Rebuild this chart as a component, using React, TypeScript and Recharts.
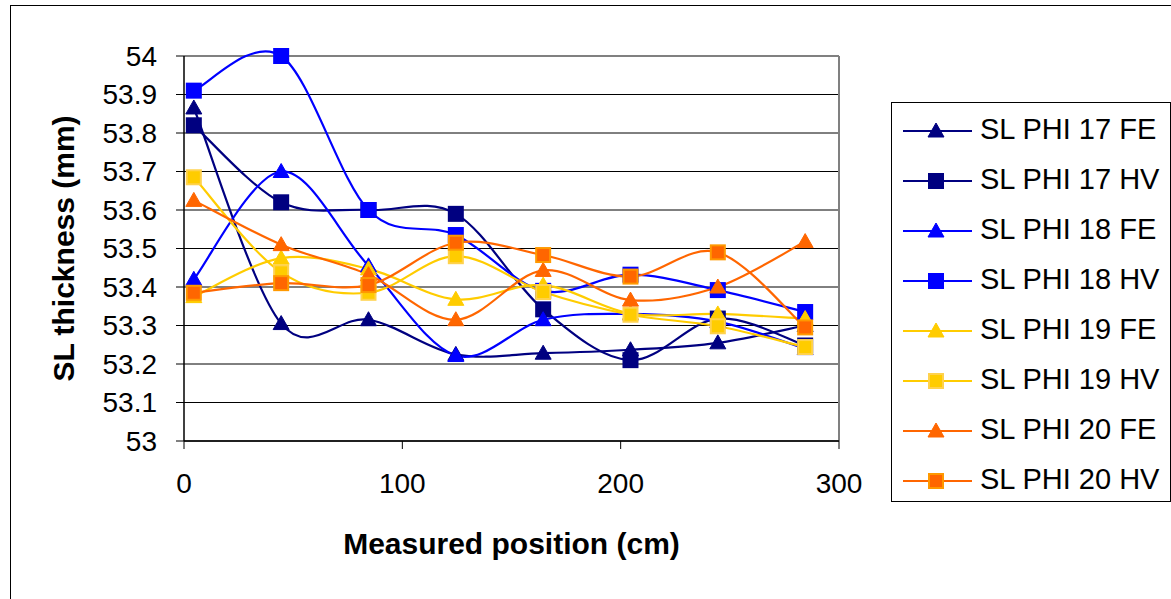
import React from 'react'
import { LineChart, Line, XAxis, YAxis, CartesianGrid, ReferenceLine, Label } from 'recharts'

// measured positions along the chamber (cm)
const positions = [4.5, 44.5, 84.5, 124.5, 164.5, 204.5, 244.5, 284.5]

// SL thickness (mm) per superlayer / side
const phi17FE = [53.865, 53.305, 53.315, 53.225, 53.228, 53.237, 53.255, 53.3]
const phi17HV = [53.82, 53.62, 53.6, 53.59, 53.342, 53.21, 53.318, 53.248]
const phi18FE = [53.42, 53.7, 53.455, 53.222, 53.315, 53.33, 53.31, 53.24]
const phi18HV = [53.91, 54.0, 53.6, 53.535, 53.39, 53.432, 53.392, 53.335]
const phi19FE = [53.375, 53.475, 53.447, 53.368, 53.405, 53.331, 53.33, 53.318]
const phi19HV = [53.685, 53.438, 53.385, 53.48, 53.387, 53.328, 53.298, 53.244]
const phi20FE = [53.625, 53.51, 53.432, 53.315, 53.443, 53.366, 53.4, 53.518]
const phi20HV = [53.385, 53.41, 53.405, 53.515, 53.483, 53.427, 53.49, 53.295]

const xTicks = [0, 100, 200, 300]
const yTicks = [53, 53.1, 53.2, 53.3, 53.4, 53.5, 53.6, 53.7, 53.8, 53.9, 54]

const FONT = '"Liberation Sans", Arial, sans-serif'

const series = [
  { key: 'p17fe', name: 'SL PHI 17 FE', values: phi17FE, color: '#000080', shape: 'tri', edge: '#000080' },
  { key: 'p17hv', name: 'SL PHI 17 HV', values: phi17HV, color: '#000080', shape: 'sq', edge: '#000080' },
  { key: 'p18fe', name: 'SL PHI 18 FE', values: phi18FE, color: '#0000FF', shape: 'tri', edge: '#0000FF' },
  { key: 'p18hv', name: 'SL PHI 18 HV', values: phi18HV, color: '#0000FF', shape: 'sq', edge: '#0000FF' },
  { key: 'p19fe', name: 'SL PHI 19 FE', values: phi19FE, color: '#FFCC00', shape: 'tri', edge: '#FFCC00' },
  { key: 'p19hv', name: 'SL PHI 19 HV', values: phi19HV, color: '#FFCC00', shape: 'sq', edge: '#FFD24D' },
  { key: 'p20fe', name: 'SL PHI 20 FE', values: phi20FE, color: '#FF6600', shape: 'tri', edge: '#FF6600' },
  { key: 'p20hv', name: 'SL PHI 20 HV', values: phi20HV, color: '#FF6600', shape: 'sq', edge: '#FF9900' },
]

const data = positions.map((x, i) => {
  const row: Record<string, number> = { x }
  series.forEach(s => { row[s.key] = s.values[i] })
  return row
})

// Excel-style smoothed line (Catmull-Rom through every point)
const excelSmooth = (context: any) => {
  let pts: number[][] = []
  return {
    areaStart() {},
    areaEnd() {},
    lineStart() { pts = [] },
    point(x: number, y: number) { pts.push([+x, +y]) },
    lineEnd() {
      const n = pts.length
      if (!n) return
      context.moveTo(pts[0][0], pts[0][1])
      for (let i = 0; i < n - 1; i++) {
        const p0 = pts[Math.max(i - 1, 0)]
        const p1 = pts[i]
        const p2 = pts[i + 1]
        const p3 = pts[Math.min(i + 2, n - 1)]
        context.bezierCurveTo(
          p1[0] + (p2[0] - p0[0]) / 6, p1[1] + (p2[1] - p0[1]) / 6,
          p2[0] - (p3[0] - p1[0]) / 6, p2[1] - (p3[1] - p1[1]) / 6,
          p2[0], p2[1],
        )
      }
    },
  }
}

function Marker({ cx, cy, shape, fill, edge }: { cx: number; cy: number; shape: string; fill: string; edge: string }) {
  if (shape === 'tri') {
    return <path d={`M${cx},${cy - 8} L${cx + 8},${cy + 6} L${cx - 8},${cy + 6} Z`} fill={fill} stroke={edge} strokeWidth={1} />
  }
  return <rect x={cx - 7} y={cy - 7} width={14} height={14} fill={fill} stroke={edge} strokeWidth={2} />
}

const tickStyle = { fontSize: 28, fill: '#000', fontFamily: FONT }

export default function App() {
  return (
    <div style={{ position: 'absolute', left: 0, top: 0, width: 1171, height: 599, overflow: 'hidden', background: '#fff', fontFamily: FONT }}>
      <div style={{ position: 'absolute', left: 10, top: 5, width: 1200, height: 700, border: '1px solid #000' }} />
      <LineChart width={1171} height={599} data={data} margin={{ top: 56, right: 332, bottom: 78, left: 34 }}>
        <CartesianGrid vertical={false} stroke="#000" strokeWidth={1} />
        <ReferenceLine y={54} stroke="#808080" strokeWidth={2} />
        <ReferenceLine x={300} stroke="#808080" strokeWidth={2} />
        <XAxis
          dataKey="x"
          type="number"
          domain={[0, 300]}
          ticks={xTicks}
          height={80}
          tickSize={8}
          tickMargin={24}
          tick={tickStyle}
          stroke="#000"
          axisLine={{ stroke: '#000', strokeWidth: 1.5 }}
        >
          <Label
            content={({ viewBox }: any) => (
              <text x={viewBox.x + viewBox.width / 2} y={543} textAnchor="middle" dominantBaseline="central"
                fontFamily={FONT} fontSize={30} fontWeight="bold" fill="#000">
                Measured position (cm)
              </text>
            )}
          />
        </XAxis>
        <YAxis
          type="number"
          domain={[53, 54]}
          ticks={yTicks}
          width={150}
          tickSize={8}
          tickMargin={19}
          tick={tickStyle}
          tickFormatter={(v: number) => String(+v.toFixed(1))}
          stroke="#000"
          axisLine={{ stroke: '#000', strokeWidth: 1.5 }}
        >
          <Label
            content={({ viewBox }: any) => {
              const cx = viewBox.x + 29
              const cy = viewBox.y + viewBox.height / 2
              return (
                <text x={cx} y={cy} transform={`rotate(-90, ${cx}, ${cy})`} textAnchor="middle" dominantBaseline="central"
                  fontFamily={FONT} fontSize={30} fontWeight="bold" fill="#000">
                  SL thickness (mm)
                </text>
              )
            }}
          />
        </YAxis>
        {series.map(s => (
          <Line
            key={s.key}
            dataKey={s.key}
            name={s.name}
            type={excelSmooth as any}
            stroke={s.color}
            strokeWidth={2.2}
            isAnimationActive={false}
            activeDot={false}
            dot={(p: any) => (
              <Marker key={`${s.key}-${p.index}`} cx={p.cx} cy={p.cy} shape={s.shape} fill={s.color} edge={s.edge} />
            )}
          />
        ))}
      </LineChart>

      <div style={{ position: 'absolute', left: 891, top: 102, width: 278, height: 398, border: '1px solid #000', background: '#fff' }}>
        {series.map((s, i) => (
          <div key={s.key} style={{ position: 'absolute', left: 0, top: 3 + i * 50, height: 50, width: 278 }}>
            <svg width={80} height={50} style={{ position: 'absolute', left: 0, top: 0 }}>
              <line x1={11} y1={25} x2={80} y2={25} stroke={s.color} strokeWidth={2.2} />
              <Marker cx={44} cy={25} shape={s.shape} fill={s.color} edge={s.edge} />
            </svg>
            <div style={{ position: 'absolute', left: 88, top: 0, height: 46, lineHeight: '46px', fontSize: 29, color: '#000', whiteSpace: 'nowrap' }}>
              {s.name}
            </div>
          </div>
        ))}
      </div>
    </div>
  )
}
